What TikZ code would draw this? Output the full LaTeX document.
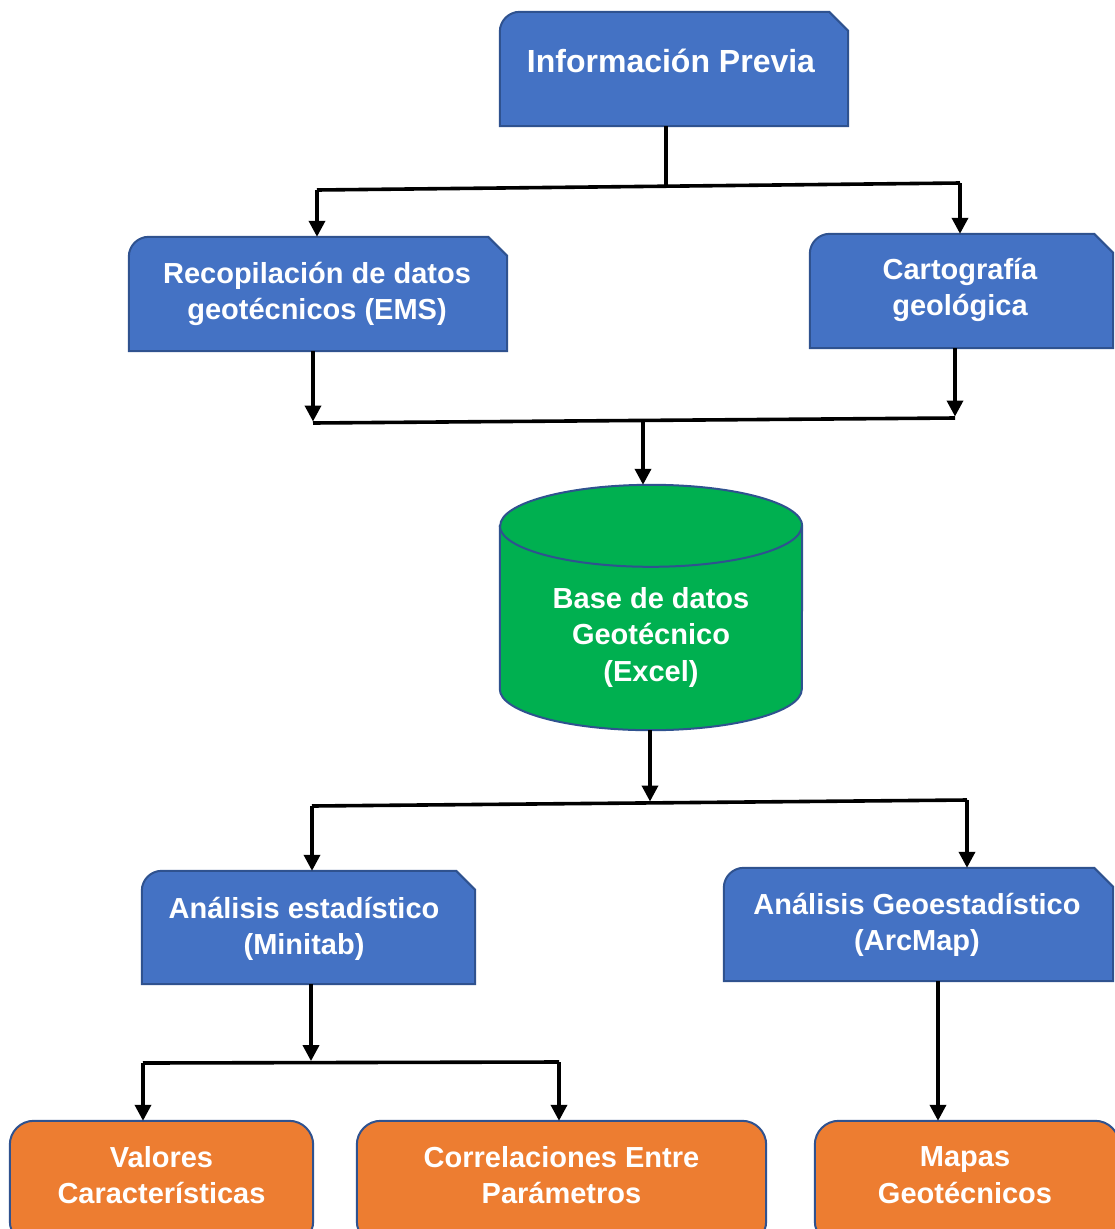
\documentclass[tikz,border=0pt]{standalone}
\usepackage{fontspec}
\setmainfont{Liberation Sans}
\usetikzlibrary{arrows.meta}
\pgfdeclarelayer{background}
\pgfsetlayers{background,main}

\definecolor{boxblue}{HTML}{4472C4}
\definecolor{edgeblue}{HTML}{2F528F}
\definecolor{dbgreen}{HTML}{00B050}
\definecolor{resorange}{HTML}{ED7D31}

\begin{document}
\begin{tikzpicture}[x=1pt,y=-1pt,
  holder/.style={inner sep=0pt, draw=none},
  lbl/.style={font=\fontsize{29}{36.5}\selectfont\bfseries, text=white, align=center, inner sep=0pt},
  title/.style={lbl, font=\fontsize{32}{38}\selectfont\bfseries},
  conn/.style={line width=3.6pt, black},
  arr/.style={conn, -{Triangle[length=16pt,width=16pt]}},
  blueshape/.style={fill=boxblue, draw=edgeblue, line width=2pt},
  orangeshape/.style={fill=resorange, draw=edgeblue, line width=2pt, rounded corners=24pt},
  dbshape/.style={fill=dbgreen, draw=edgeblue, line width=2pt},
]
\useasboundingbox (0,0) rectangle (1115,1229);
\clip (0,0) rectangle (1115,1229);

% box holders
\node[holder, minimum width=348pt, minimum height=114pt] (info)  at (674,69) {};
\node[holder, minimum width=378pt, minimum height=114pt] (rec)   at (318,294) {};
\node[holder, minimum width=303pt, minimum height=114pt] (carto) at (961.5,291) {};
\node[holder, minimum width=302pt, minimum height=245pt] (db)    at (651,607.5) {};
\node[holder, minimum width=333pt, minimum height=113pt] (est)   at (308.5,927.5) {};
\node[holder, minimum width=389pt, minimum height=113pt] (geo)   at (918.5,924.5) {};
\node[holder, minimum width=303pt, minimum height=124pt] (val)   at (161.5,1183) {};
\node[holder, minimum width=409pt, minimum height=124pt] (cor)   at (561.5,1183) {};
\node[holder, minimum width=304pt, minimum height=124pt] (map)   at (967,1183) {};

% shapes
\begin{pgfonlayer}{background}
\foreach \n in {info,rec,carto,est,geo}
  \draw[blueshape] (\n.south west) -- ([yshift=-20pt]\n.north west)
    arc[start angle=180, end angle=90, radius=20pt]
    -- ([xshift=-19pt]\n.north east) -- ([yshift=-19pt]\n.north east)
    -- (\n.south east) -- cycle;
\foreach \n in {val,cor,map}
  \draw[orangeshape] (\n.north west) rectangle (\n.south east);
\draw[dbshape] ([yshift=-41pt]db.north west) -- ([yshift=41pt]db.south west)
  arc[start angle=180, end angle=360, x radius=151pt, y radius=41pt]
  -- ([yshift=-41pt]db.north east)
  arc[start angle=0, end angle=180, x radius=151pt, y radius=41pt] -- cycle;
\draw[edgeblue, line width=2pt] ([yshift=-41pt]db.north west)
  arc[start angle=180, end angle=360, x radius=151pt, y radius=41pt];
\end{pgfonlayer}

% texts
\node[title] (infotxt)  at (671,61)    {Información Previa};
\node[lbl]   (rectxt)   at (317,294)   {Recopilación de datos\\geotécnicos (EMS)};
\node[lbl]   (cartotxt) at (960,290)   {Cartografía\\geológica};
\node[lbl]   (dbtxt)    at (651,637)   {Base de datos\\Geotécnico\\(Excel)};
\node[lbl]   (esttxt)   at (304,929)   {Análisis estadístico\\(Minitab)};
\node[lbl]   (geotxt)   at (917,925)   {Análisis Geoestadístico\\(ArcMap)};
\node[lbl]   (valtxt)   at (161.5,1175) {Valores\\Características};
\node[lbl]   (cortxt)   at (561.5,1175) {Correlaciones Entre\\Parámetros};
\node[lbl]   (maptxt)   at (965,1175)  {Mapas\\Geotécnicos};

% junction points
\coordinate (a1) at (317,190);
\coordinate (a2) at (960,183);
\coordinate (a0) at (666,186.2);
\coordinate (b1) at (313,423);
\coordinate (b2) at (955,418);
\coordinate (b0) at (643,420.5);
\coordinate (c1) at (312,806);
\coordinate (c2) at (967,800);
\coordinate (c0) at (650,803);
\coordinate (d1) at (143,1063);
\coordinate (d2) at (559,1062);
\coordinate (d0) at (311,1062.6);
\coordinate (e0) at (938,981);

% connectors
\draw[conn] (a0 |- info.south) -- (a0);
\draw[conn] (a1) -- (a2);
\draw[arr] (a1) -- (a1 |- rec.north);
\draw[arr] (a2) -- (a2 |- carto.north);

\draw[arr] (b1 |- rec.south) -- ([yshift=1.5pt]b1);
\draw[arr] (b2 |- carto.south) -- ([yshift=1.5pt]b2);
\draw[conn] (b1) -- (b2);
\draw[arr] (b0) -- (b0 |- db.north);

\draw[arr] (c0 |- db.south) -- ([yshift=1.5pt]c0);
\draw[conn] (c1) -- (c2);
\draw[arr] (c1) -- (c1 |- est.north);
\draw[arr] (c2) -- (c2 |- geo.north);

\draw[arr] (d0 |- est.south) -- ([yshift=1.5pt]d0);
\draw[conn] (d1) -- (d2);
\draw[arr] (d1) -- (d1 |- val.north);
\draw[arr] (d2) -- (d2 |- cor.north);

\draw[arr] (e0 |- geo.south) -- (e0 |- map.north);
\end{tikzpicture}
\end{document}
